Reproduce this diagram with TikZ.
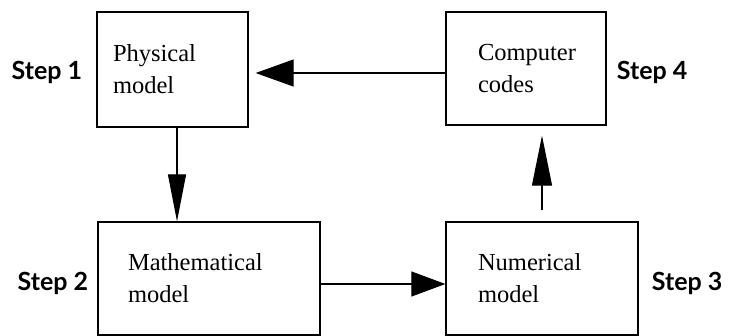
\documentclass[tikz,border=0pt]{standalone}
\usepackage{fontspec}
\setmainfont{Liberation Serif}
\newfontfamily\stepfont{Lato}
\usepackage{tikz}
\usetikzlibrary{positioning, arrows.meta, calc}

\begin{document}
\begin{tikzpicture}[
        x=1pt, y=-1pt,
        box/.style={rectangle, draw, line width=1.3pt, align=left, minimum height=115pt, inner ysep=0pt, font=\fontsize{24.5}{32}\selectfont},
        steplabel/.style={font=\stepfont\bfseries\fontsize{25}{28}\selectfont, inner sep=0pt},
        arr/.style={line width=1.2pt}
    ]
        \useasboundingbox (0,0) rectangle (730,335);

        % Model boxes
        \node[box, minimum width=151pt, text width=119pt, inner xsep=16pt] (phys) at (172.5,69.5) {Physical\\ model};
        \node[box, minimum width=160pt, text width=96pt, inner xsep=32pt, minimum height=113pt] (code) at (526,68.5) {Computer\\ codes};
        \node[box, minimum width=222pt, text width=162pt, inner xsep=30pt, minimum height=113pt] (math) at (209,278.5) {Mathematical\\ model};
        \node[box, minimum width=192pt, text width=128pt, inner xsep=32pt, minimum height=113pt] (num) at (542,278.5) {Numerical\\ model};

        % Step labels
        \node[steplabel, left=14pt of phys, yshift=-2.5pt] (s1) {Step 1};
        \node[steplabel, left=9pt of math, yshift=-4.5pt] (s2) {Step 2};
        \node[steplabel, right=13pt of num, yshift=-4.5pt] (s3) {Step 3};
        \node[steplabel, right=10pt of code, yshift=-3.5pt] (s4) {Step 4};

        % Flow between the steps
        \draw[arr, -{Triangle[length=47pt, width=18pt]}] ([xshift=4.5pt]phys.south) -- ([xshift=4.5pt]phys.south |- math.north);
        \draw[arr, -{Triangle[length=34pt, width=25pt]}] ([yshift=-5.5pt]math.east) -- ([yshift=-5.5pt]math.east -| num.west);
        \draw[arr, -{Triangle[length=50pt, width=20pt]}, shorten <=11pt, shorten >=10pt] (num.north) -- (num.north |- code.south);
        \draw[arr, -{Triangle[length=38pt, width=27pt]}, shorten >=7pt] ([yshift=-4.5pt]code.west) -- ([yshift=-4.5pt]code.west -| phys.east);
    \end{tikzpicture}
\end{document}
